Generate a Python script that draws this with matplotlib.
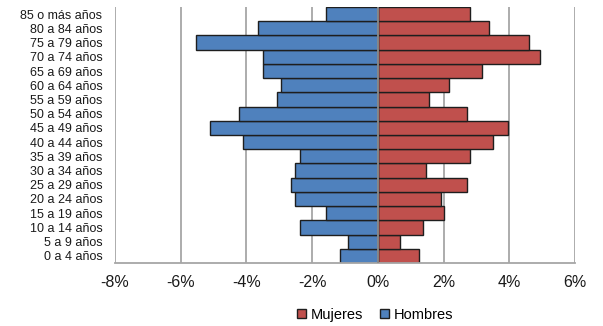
import matplotlib.pyplot as plt
from matplotlib.ticker import FuncFormatter

plt.rcParams['font.family'] = ['Liberation Sans', 'DejaVu Sans']

grupos = ["0 a 4 años", "5 a 9 años", "10 a 14 años", "15 a 19 años",
          "20 a 24 años", "25 a 29 años", "30 a 34 años", "35 a 39 años",
          "40 a 44 años", "45 a 49 años", "50 a 54 años", "55 a 59 años",
          "60 a 64 años", "65 a 69 años", "70 a 74 años", "75 a 79 años",
          "80 a 84 años", "85 o más años"]
mujeres = [1.24, 0.66, 1.36, 2.02, 1.93, 2.71, 1.45, 2.79, 3.50, 3.95,
           2.71, 1.57, 2.15, 3.17, 4.94, 4.60, 3.38, 2.79]
hombres = [-1.15, -0.91, -2.37, -1.59, -2.51, -2.63, -2.51, -2.37, -4.09, -5.10,
           -4.22, -3.08, -2.95, -3.51, -3.51, -5.54, -3.65, -1.57]
xticks = [-8, -6, -4, -2, 0, 2, 4, 6]

fig = plt.figure(figsize=(6.03, 3.26), dpi=100)
ax = fig.add_axes([0.1907, 0.1933, 0.7629, 0.7852])

y = range(len(grupos))
ax.barh(y, mujeres, height=1.0, color="#C0504D", edgecolor="#1e1e1e",
        linewidth=1.0, label="Mujeres", zorder=2)
ax.barh(y, hombres, height=1.0, color="#4F81BD", edgecolor="#1e1e1e",
        linewidth=1.0, label="Hombres", zorder=2)

ax.set_xlim(-8, 6)
ax.set_ylim(-0.5, len(grupos) - 0.5)
ax.set_xticks(xticks)
ax.xaxis.set_major_formatter(FuncFormatter(lambda v, p: f"{v:.0f}%"))
ax.set_yticks(list(y))
ax.set_yticklabels(grupos)

ax.grid(axis="x", color="#a6a6a6", linewidth=1.3, zorder=0)
ax.axvline(0, color="#8c8c8c", linewidth=1.3, zorder=3)
for s in ["top", "left", "right"]:
    ax.spines[s].set_visible(False)
ax.spines["bottom"].set_color("#a6a6a6")
ax.spines["bottom"].set_linewidth(1.3)

ax.tick_params(axis="x", length=0, pad=9, labelsize=11.5, colors="#1a1a1a")
ax.tick_params(axis="y", length=0, pad=9, labelsize=9, colors="#1a1a1a")

fig.legend(loc="center", bbox_to_anchor=(375 / 603, 1 - 315 / 326), ncol=2,
           frameon=False, fontsize=10.5, handlelength=0.6, handleheight=0.6,
           handletextpad=0.3, columnspacing=1.2)

fig.savefig("out.png", dpi=100)
